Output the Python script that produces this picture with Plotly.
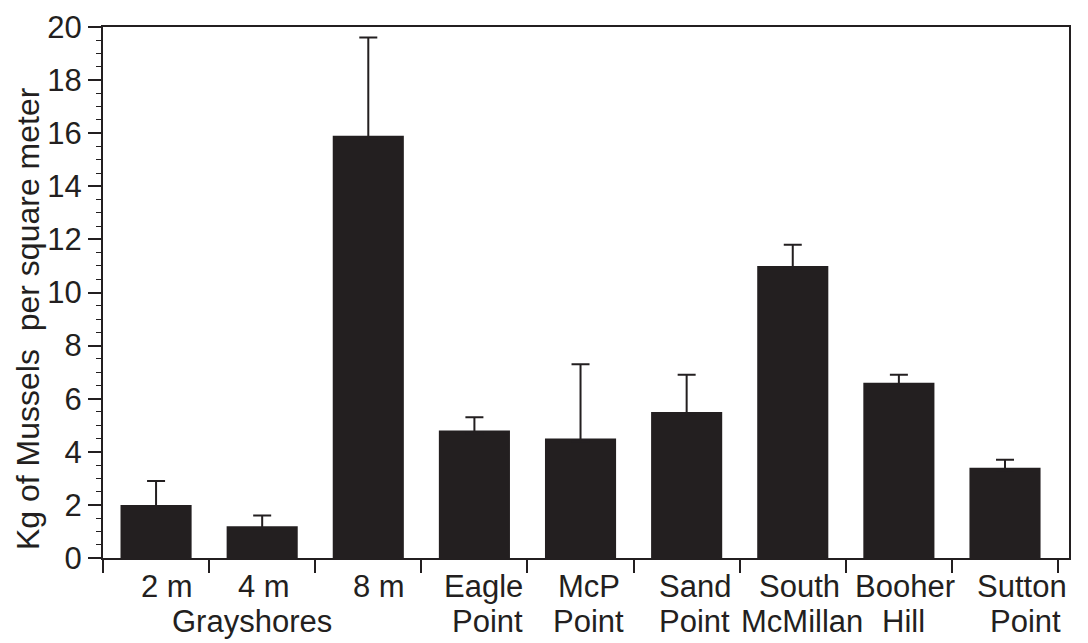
import plotly.graph_objects as go

# ---- data ----
categories = ["Grayshores 2 m", "Grayshores 4 m", "Grayshores 8 m", "Eagle Point", "McP Point",
              "Sand Point", "South McMillan", "Booher Hill", "Sutton Point"]
label_line1 = ["2 m", "4 m", "8 m", "Eagle", "McP", "Sand", "South", "Booher", "Sutton"]
label_line2 = ["", "Grayshores", "", "Point", "Point", "Point", "McMillan", "Hill", "Point"]
means = [2.0, 1.2, 15.9, 4.8, 4.5, 5.5, 11.0, 6.6, 3.4]
upper = [2.9, 1.6, 19.6, 5.3, 7.3, 6.9, 11.8, 6.9, 3.7]
y_title = "Kg of Mussels  per square meter"

# ---- layout details (not data) ----
nudge1 = [11, 2, 11, 9, 8, 8, 7, 6, 17]      # horizontal nudges of first label row (px)
nudge2 = [0, -10, 0, 13, 8, 8, 9, 5, 20]     # horizontal nudges of second label row (px)

err_plus = [u - m for u, m in zip(upper, means)]
err_minus = [0.1] * len(means)  # lower cap stays hidden inside the bar

INK = "#231f20"
FAM = "Liberation Sans, Arial, sans-serif"
FONT = dict(family=FAM, size=31, color=INK)

fig = go.Figure(go.Bar(
    x=categories, y=means, width=0.67,
    marker=dict(color=INK, line=dict(width=0)),
    error_y=dict(type="data", symmetric=False, array=err_plus, arrayminus=err_minus,
                 color=INK, thickness=2, width=9),
))

fig.update_layout(
    width=1088, height=643,
    margin=dict(l=95, r=27, t=19, b=93),
    plot_bgcolor="white", paper_bgcolor="white",
    font=FONT, showlegend=False,
)
fig.update_xaxes(
    type="category", tickson="boundaries", ticks="outside", ticklen=13, tickwidth=1.5,
    tickcolor=INK, showline=True, linecolor=INK, linewidth=2, mirror=True,
    showgrid=False, showticklabels=False, automargin=False,
)
fig.update_yaxes(
    range=[0, 20], dtick=2, ticks="outside", ticklen=13, tickwidth=1.5, tickcolor=INK,
    showline=True, linecolor=INK, linewidth=2, mirror=True, showgrid=False, zeroline=False,
    tickfont=FONT, automargin=False,
    minor=dict(dtick=0.5, ticks="outside", ticklen=5, tickwidth=1, tickcolor=INK, showgrid=False),
)

for cat, t1, t2, d1, d2 in zip(categories, label_line1, label_line2, nudge1, nudge2):
    fig.add_annotation(text=t1, x=cat, xref="x", y=0, yref="paper", yanchor="middle",
                       xshift=d1, yshift=-28, showarrow=False, font=FONT)
    if t2:
        fig.add_annotation(text=t2, x=cat, xref="x", y=0, yref="paper", yanchor="middle",
                           xshift=d2, yshift=-63, showarrow=False, font=FONT)

fig.add_annotation(text=y_title, textangle=-90, x=0, xref="paper", xanchor="center",
                   xshift=-75, y=0.45, yref="paper", yanchor="middle", showarrow=False,
                   font=dict(family=FAM, size=32, color=INK))

fig.write_html("out.html")
